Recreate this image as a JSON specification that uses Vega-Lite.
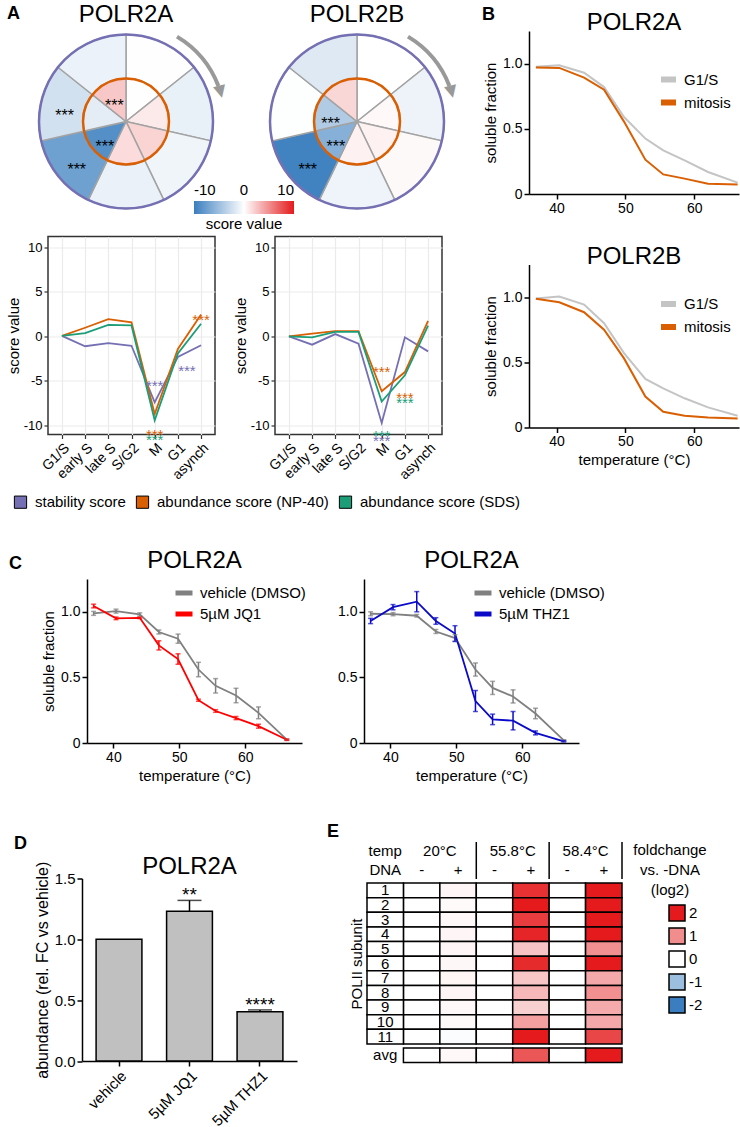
{
"$schema": "https://vega.github.io/schema/vega-lite/v6.json",
"padding": {"left": 5, "top": 2, "right": 0, "bottom": 0},
"background": "white",
"config": {
 "font": "Liberation Sans",
 "view": {"stroke": null},
 "axis": {"labelFontSize": 14, "titleFontSize": 15, "titleFontWeight": "normal", "labelColor": "black", "titleColor": "black", "domainColor": "black", "domainWidth": 1.5, "tickColor": "black", "tickWidth": 1.5, "tickSize": 5, "grid": false, "labelFont": "Liberation Sans", "titleFont": "Liberation Sans"},
 "title": {"fontSize": 24, "fontWeight": "normal", "font": "Liberation Sans", "color": "black"},
 "legend": {"labelFontSize": 15, "labelColor": "black", "titleFontWeight": "normal", "titleColor": "black", "labelFont": "Liberation Sans", "titleFont": "Liberation Sans"},
 "text": {"font": "Liberation Sans", "color": "black"}
},
"datasets": {
 "scores": [
  {"protein":"POLR2A","type":"stability score","phase":"G1/S","idx":1,"value":0.05,"sig":""},
  {"protein":"POLR2A","type":"stability score","phase":"early S","idx":2,"value":-1.1,"sig":""},
  {"protein":"POLR2A","type":"stability score","phase":"late S","idx":3,"value":-0.75,"sig":""},
  {"protein":"POLR2A","type":"stability score","phase":"S/G2","idx":4,"value":-1.05,"sig":""},
  {"protein":"POLR2A","type":"stability score","phase":"M","idx":5,"value":-7.4,"sig":"***"},
  {"protein":"POLR2A","type":"stability score","phase":"G1","idx":6,"value":-2.3,"sig":"***"},
  {"protein":"POLR2A","type":"stability score","phase":"asynch","idx":7,"value":-1.0,"sig":""},
  {"protein":"POLR2A","type":"abundance score (NP-40)","phase":"G1/S","idx":1,"value":0.05,"sig":""},
  {"protein":"POLR2A","type":"abundance score (NP-40)","phase":"early S","idx":2,"value":0.97,"sig":""},
  {"protein":"POLR2A","type":"abundance score (NP-40)","phase":"late S","idx":3,"value":1.94,"sig":""},
  {"protein":"POLR2A","type":"abundance score (NP-40)","phase":"S/G2","idx":4,"value":1.57,"sig":""},
  {"protein":"POLR2A","type":"abundance score (NP-40)","phase":"M","idx":5,"value":-8.7,"sig":"***"},
  {"protein":"POLR2A","type":"abundance score (NP-40)","phase":"G1","idx":6,"value":-1.4,"sig":""},
  {"protein":"POLR2A","type":"abundance score (NP-40)","phase":"asynch","idx":7,"value":2.46,"sig":"***"},
  {"protein":"POLR2A","type":"abundance score (SDS)","phase":"G1/S","idx":1,"value":0.05,"sig":""},
  {"protein":"POLR2A","type":"abundance score (SDS)","phase":"early S","idx":2,"value":0.37,"sig":""},
  {"protein":"POLR2A","type":"abundance score (SDS)","phase":"late S","idx":3,"value":1.3,"sig":""},
  {"protein":"POLR2A","type":"abundance score (SDS)","phase":"S/G2","idx":4,"value":1.23,"sig":""},
  {"protein":"POLR2A","type":"abundance score (SDS)","phase":"M","idx":5,"value":-9.4,"sig":"***"},
  {"protein":"POLR2A","type":"abundance score (SDS)","phase":"G1","idx":6,"value":-1.9,"sig":""},
  {"protein":"POLR2A","type":"abundance score (SDS)","phase":"asynch","idx":7,"value":1.42,"sig":""},
  {"protein":"POLR2B","type":"stability score","phase":"G1/S","idx":1,"value":0.0,"sig":""},
  {"protein":"POLR2B","type":"stability score","phase":"early S","idx":2,"value":-0.93,"sig":""},
  {"protein":"POLR2B","type":"stability score","phase":"late S","idx":3,"value":0.26,"sig":""},
  {"protein":"POLR2B","type":"stability score","phase":"S/G2","idx":4,"value":-0.82,"sig":""},
  {"protein":"POLR2B","type":"stability score","phase":"M","idx":5,"value":-9.7,"sig":"***"},
  {"protein":"POLR2B","type":"stability score","phase":"G1","idx":6,"value":-0.1,"sig":""},
  {"protein":"POLR2B","type":"stability score","phase":"asynch","idx":7,"value":-1.68,"sig":""},
  {"protein":"POLR2B","type":"abundance score (NP-40)","phase":"G1/S","idx":1,"value":0.0,"sig":""},
  {"protein":"POLR2B","type":"abundance score (NP-40)","phase":"early S","idx":2,"value":0.3,"sig":""},
  {"protein":"POLR2B","type":"abundance score (NP-40)","phase":"late S","idx":3,"value":0.6,"sig":""},
  {"protein":"POLR2B","type":"abundance score (NP-40)","phase":"S/G2","idx":4,"value":0.6,"sig":""},
  {"protein":"POLR2B","type":"abundance score (NP-40)","phase":"M","idx":5,"value":-6.15,"sig":"***"},
  {"protein":"POLR2B","type":"abundance score (NP-40)","phase":"G1","idx":6,"value":-4.0,"sig":"***"},
  {"protein":"POLR2B","type":"abundance score (NP-40)","phase":"asynch","idx":7,"value":1.75,"sig":""},
  {"protein":"POLR2B","type":"abundance score (SDS)","phase":"G1/S","idx":1,"value":0.0,"sig":""},
  {"protein":"POLR2B","type":"abundance score (SDS)","phase":"early S","idx":2,"value":-0.1,"sig":""},
  {"protein":"POLR2B","type":"abundance score (SDS)","phase":"late S","idx":3,"value":0.5,"sig":""},
  {"protein":"POLR2B","type":"abundance score (SDS)","phase":"S/G2","idx":4,"value":0.5,"sig":""},
  {"protein":"POLR2B","type":"abundance score (SDS)","phase":"M","idx":5,"value":-7.3,"sig":"***"},
  {"protein":"POLR2B","type":"abundance score (SDS)","phase":"G1","idx":6,"value":-4.37,"sig":"***"},
  {"protein":"POLR2B","type":"abundance score (SDS)","phase":"asynch","idx":7,"value":1.2,"sig":""}
 ],
 "linestars": [
  {"protein":"POLR2A","type":"stability score","phase":"M","y":-4.5},
  {"protein":"POLR2A","type":"stability score","phase":"G1","y":-2.9},
  {"protein":"POLR2A","type":"abundance score (NP-40)","phase":"asynch","y":2.9},
  {"protein":"POLR2A","type":"abundance score (NP-40)","phase":"M","y":-10.1},
  {"protein":"POLR2A","type":"abundance score (SDS)","phase":"M","y":-10.6},
  {"protein":"POLR2B","type":"abundance score (NP-40)","phase":"M","y":-3.0},
  {"protein":"POLR2B","type":"abundance score (NP-40)","phase":"G1","y":-5.85},
  {"protein":"POLR2B","type":"abundance score (SDS)","phase":"G1","y":-6.5},
  {"protein":"POLR2B","type":"abundance score (SDS)","phase":"M","y":-10.2},
  {"protein":"POLR2B","type":"stability score","phase":"M","y":-10.75}
 ],
 "melt": [
  {"protein":"POLR2A","cond":"G1/S","temp":37,"frac":0.975},{"protein":"POLR2A","cond":"G1/S","temp":40.4,"frac":0.987},{"protein":"POLR2A","cond":"G1/S","temp":44,"frac":0.93},{"protein":"POLR2A","cond":"G1/S","temp":46.9,"frac":0.82},{"protein":"POLR2A","cond":"G1/S","temp":49.8,"frac":0.59},{"protein":"POLR2A","cond":"G1/S","temp":52.9,"frac":0.425},{"protein":"POLR2A","cond":"G1/S","temp":55.5,"frac":0.335},{"protein":"POLR2A","cond":"G1/S","temp":58.6,"frac":0.258},{"protein":"POLR2A","cond":"G1/S","temp":62,"frac":0.169},{"protein":"POLR2A","cond":"G1/S","temp":66.3,"frac":0.087},
  {"protein":"POLR2A","cond":"mitosis","temp":37,"frac":0.97},{"protein":"POLR2A","cond":"mitosis","temp":40.4,"frac":0.967},{"protein":"POLR2A","cond":"mitosis","temp":44,"frac":0.893},{"protein":"POLR2A","cond":"mitosis","temp":46.9,"frac":0.8},{"protein":"POLR2A","cond":"mitosis","temp":49.8,"frac":0.555},{"protein":"POLR2A","cond":"mitosis","temp":52.9,"frac":0.263},{"protein":"POLR2A","cond":"mitosis","temp":55.5,"frac":0.15},{"protein":"POLR2A","cond":"mitosis","temp":58.6,"frac":0.118},{"protein":"POLR2A","cond":"mitosis","temp":62,"frac":0.079},{"protein":"POLR2A","cond":"mitosis","temp":66.3,"frac":0.072},
  {"protein":"POLR2B","cond":"G1/S","temp":37,"frac":0.99},{"protein":"POLR2B","cond":"G1/S","temp":40.4,"frac":1.005},{"protein":"POLR2B","cond":"G1/S","temp":44,"frac":0.943},{"protein":"POLR2B","cond":"G1/S","temp":46.9,"frac":0.8},{"protein":"POLR2B","cond":"G1/S","temp":49.8,"frac":0.57},{"protein":"POLR2B","cond":"G1/S","temp":52.9,"frac":0.373},{"protein":"POLR2B","cond":"G1/S","temp":55.5,"frac":0.3},{"protein":"POLR2B","cond":"G1/S","temp":58.6,"frac":0.224},{"protein":"POLR2B","cond":"G1/S","temp":62,"frac":0.154},{"protein":"POLR2B","cond":"G1/S","temp":66.3,"frac":0.09},
  {"protein":"POLR2B","cond":"mitosis","temp":37,"frac":0.987},{"protein":"POLR2B","cond":"mitosis","temp":40.4,"frac":0.96},{"protein":"POLR2B","cond":"mitosis","temp":44,"frac":0.884},{"protein":"POLR2B","cond":"mitosis","temp":46.9,"frac":0.75},{"protein":"POLR2B","cond":"mitosis","temp":49.8,"frac":0.53},{"protein":"POLR2B","cond":"mitosis","temp":52.9,"frac":0.237},{"protein":"POLR2B","cond":"mitosis","temp":55.5,"frac":0.12},{"protein":"POLR2B","cond":"mitosis","temp":58.6,"frac":0.09},{"protein":"POLR2B","cond":"mitosis","temp":62,"frac":0.077},{"protein":"POLR2B","cond":"mitosis","temp":66.3,"frac":0.069}
 ],
 "tx": [
  {"panel":"JQ1","cond":"vehicle (DMSO)","temp":37,"frac":0.988,"lo":0.973,"hi":1.003},{"panel":"JQ1","cond":"vehicle (DMSO)","temp":40.4,"frac":1.005,"lo":0.99,"hi":1.02},{"panel":"JQ1","cond":"vehicle (DMSO)","temp":44,"frac":0.98,"lo":0.968,"hi":0.992},{"panel":"JQ1","cond":"vehicle (DMSO)","temp":46.9,"frac":0.846,"lo":0.831,"hi":0.861},{"panel":"JQ1","cond":"vehicle (DMSO)","temp":49.8,"frac":0.795,"lo":0.76,"hi":0.83},{"panel":"JQ1","cond":"vehicle (DMSO)","temp":52.9,"frac":0.56,"lo":0.505,"hi":0.615},{"panel":"JQ1","cond":"vehicle (DMSO)","temp":55.5,"frac":0.436,"lo":0.381,"hi":0.491},{"panel":"JQ1","cond":"vehicle (DMSO)","temp":58.6,"frac":0.362,"lo":0.307,"hi":0.417},{"panel":"JQ1","cond":"vehicle (DMSO)","temp":62,"frac":0.23,"lo":0.185,"hi":0.275},{"panel":"JQ1","cond":"vehicle (DMSO)","temp":66.3,"frac":0.025,"lo":0.02,"hi":0.03},
  {"panel":"JQ1","cond":"5µM JQ1","temp":37,"frac":1.044,"lo":1.03,"hi":1.058},{"panel":"JQ1","cond":"5µM JQ1","temp":40.4,"frac":0.95,"lo":0.94,"hi":0.96},{"panel":"JQ1","cond":"5µM JQ1","temp":44,"frac":0.954,"lo":0.948,"hi":0.96},{"panel":"JQ1","cond":"5µM JQ1","temp":46.9,"frac":0.744,"lo":0.709,"hi":0.779},{"panel":"JQ1","cond":"5µM JQ1","temp":49.8,"frac":0.64,"lo":0.6,"hi":0.68},{"panel":"JQ1","cond":"5µM JQ1","temp":52.9,"frac":0.326,"lo":0.318,"hi":0.334},{"panel":"JQ1","cond":"5µM JQ1","temp":55.5,"frac":0.244,"lo":0.234,"hi":0.254},{"panel":"JQ1","cond":"5µM JQ1","temp":58.6,"frac":0.19,"lo":0.178,"hi":0.202},{"panel":"JQ1","cond":"5µM JQ1","temp":62,"frac":0.128,"lo":0.113,"hi":0.143},{"panel":"JQ1","cond":"5µM JQ1","temp":66.3,"frac":0.025,"lo":0.02,"hi":0.03},
  {"panel":"THZ1","cond":"vehicle (DMSO)","temp":37,"frac":0.985,"lo":0.97,"hi":1.0},{"panel":"THZ1","cond":"vehicle (DMSO)","temp":40.4,"frac":0.982,"lo":0.97,"hi":0.994},{"panel":"THZ1","cond":"vehicle (DMSO)","temp":44,"frac":0.97,"lo":0.96,"hi":0.98},{"panel":"THZ1","cond":"vehicle (DMSO)","temp":46.9,"frac":0.85,"lo":0.835,"hi":0.865},{"panel":"THZ1","cond":"vehicle (DMSO)","temp":49.8,"frac":0.8,"lo":0.775,"hi":0.825},{"panel":"THZ1","cond":"vehicle (DMSO)","temp":52.9,"frac":0.56,"lo":0.51,"hi":0.61},{"panel":"THZ1","cond":"vehicle (DMSO)","temp":55.5,"frac":0.42,"lo":0.37,"hi":0.47},{"panel":"THZ1","cond":"vehicle (DMSO)","temp":58.6,"frac":0.355,"lo":0.305,"hi":0.405},{"panel":"THZ1","cond":"vehicle (DMSO)","temp":62,"frac":0.225,"lo":0.185,"hi":0.265},{"panel":"THZ1","cond":"vehicle (DMSO)","temp":66.3,"frac":0.02,"lo":0.015,"hi":0.025},
  {"panel":"THZ1","cond":"5µM THZ1","temp":37,"frac":0.93,"lo":0.91,"hi":0.95},{"panel":"THZ1","cond":"5µM THZ1","temp":40.4,"frac":1.035,"lo":1.015,"hi":1.055},{"panel":"THZ1","cond":"5µM THZ1","temp":44,"frac":1.077,"lo":1.0,"hi":1.154},{"panel":"THZ1","cond":"5µM THZ1","temp":46.9,"frac":0.93,"lo":0.905,"hi":0.955},{"panel":"THZ1","cond":"5µM THZ1","temp":49.8,"frac":0.834,"lo":0.774,"hi":0.894},{"panel":"THZ1","cond":"5µM THZ1","temp":52.9,"frac":0.32,"lo":0.24,"hi":0.4},{"panel":"THZ1","cond":"5µM THZ1","temp":55.5,"frac":0.18,"lo":0.14,"hi":0.22},{"panel":"THZ1","cond":"5µM THZ1","temp":58.6,"frac":0.17,"lo":0.1,"hi":0.24},{"panel":"THZ1","cond":"5µM THZ1","temp":62,"frac":0.077,"lo":0.062,"hi":0.092},{"panel":"THZ1","cond":"5µM THZ1","temp":66.3,"frac":0.013,"lo":0.008,"hi":0.018}
 ],
 "bars": [
  {"treatment":"vehicle","abundance":1.0,"upper":null,"stars":""},
  {"treatment":"5µM JQ1","abundance":1.23,"upper":1.32,"stars":"**"},
  {"treatment":"5µM THZ1","abundance":0.404,"upper":0.42,"stars":"****"}
 ],
 "heat": [
  {"sub":"1","col":"20-","value":0},{"sub":"1","col":"20+","value":0.08},{"sub":"1","col":"55-","value":0},{"sub":"1","col":"55+","value":1.8},{"sub":"1","col":"58-","value":0},{"sub":"1","col":"58+","value":2.0},
  {"sub":"2","col":"20-","value":0},{"sub":"2","col":"20+","value":0.04},{"sub":"2","col":"55-","value":0},{"sub":"2","col":"55+","value":2.0},{"sub":"2","col":"58-","value":0},{"sub":"2","col":"58+","value":2.0},
  {"sub":"3","col":"20-","value":0},{"sub":"3","col":"20+","value":0.06},{"sub":"3","col":"55-","value":0},{"sub":"3","col":"55+","value":1.7},{"sub":"3","col":"58-","value":0},{"sub":"3","col":"58+","value":2.0},
  {"sub":"4","col":"20-","value":0},{"sub":"4","col":"20+","value":0.08},{"sub":"4","col":"55-","value":0},{"sub":"4","col":"55+","value":1.9},{"sub":"4","col":"58-","value":0},{"sub":"4","col":"58+","value":2.0},
  {"sub":"5","col":"20-","value":0},{"sub":"5","col":"20+","value":0.08},{"sub":"5","col":"55-","value":0},{"sub":"5","col":"55+","value":0.52},{"sub":"5","col":"58-","value":0},{"sub":"5","col":"58+","value":0.98},
  {"sub":"6","col":"20-","value":0},{"sub":"6","col":"20+","value":0.07},{"sub":"6","col":"55-","value":0},{"sub":"6","col":"55+","value":1.85},{"sub":"6","col":"58-","value":0},{"sub":"6","col":"58+","value":2.0},
  {"sub":"7","col":"20-","value":0},{"sub":"7","col":"20+","value":0.09},{"sub":"7","col":"55-","value":0},{"sub":"7","col":"55+","value":0.5},{"sub":"7","col":"58-","value":0},{"sub":"7","col":"58+","value":0.76},
  {"sub":"8","col":"20-","value":0},{"sub":"8","col":"20+","value":0.08},{"sub":"8","col":"55-","value":0},{"sub":"8","col":"55+","value":0.62},{"sub":"8","col":"58-","value":0},{"sub":"8","col":"58+","value":0.98},
  {"sub":"9","col":"20-","value":0},{"sub":"9","col":"20+","value":0.06},{"sub":"9","col":"55-","value":0},{"sub":"9","col":"55+","value":0.41},{"sub":"9","col":"58-","value":0},{"sub":"9","col":"58+","value":0.74},
  {"sub":"10","col":"20-","value":0},{"sub":"10","col":"20+","value":0.04},{"sub":"10","col":"55-","value":0},{"sub":"10","col":"55+","value":0.83},{"sub":"10","col":"58-","value":0},{"sub":"10","col":"58+","value":0.76},
  {"sub":"11","col":"20-","value":0},{"sub":"11","col":"20+","value":-0.05},{"sub":"11","col":"55-","value":0},{"sub":"11","col":"55+","value":2.0},{"sub":"11","col":"58-","value":0},{"sub":"11","col":"58+","value":1.62}
 ],
 "heatavg": [
  {"sub":"avg","col":"20-","value":0},{"sub":"avg","col":"20+","value":0.06},{"sub":"avg","col":"55-","value":0},{"sub":"avg","col":"55+","value":1.48},{"sub":"avg","col":"58-","value":0},{"sub":"avg","col":"58+","value":2.0}
 ],
 "header": [
  {"row":"temp","col":"label","txt":"temp"},{"row":"DNA","col":"label","txt":"DNA"},
  {"row":"DNA","col":"20-","txt":"-"},{"row":"DNA","col":"20+","txt":"+"},
  {"row":"DNA","col":"55-","txt":"-"},{"row":"DNA","col":"55+","txt":"+"},
  {"row":"DNA","col":"58-","txt":"-"},{"row":"DNA","col":"58+","txt":"+"}
 ],
 "temps": [
  {"row":"temp","col":"20+","txt":"20°C"},{"row":"temp","col":"55+","txt":"55.8°C"},{"row":"temp","col":"58+","txt":"58.4°C"}
 ]
},
"spacing": 37,
"resolve": {"scale": {"color": "independent", "fill": "independent", "stroke": "independent"}},
"vconcat": [
 {
  "hconcat": [
   {
    "title": {"text": "A", "anchor": "start", "frame": "group", "fontWeight": "bold", "fontSize": 18, "dx": -41, "dy": 20, "offset": 0},
    "spacing": 3.5,
    "resolve": {"scale": {"color": "independent", "fill": "independent", "stroke": "independent"}},
    "vconcat": [
     {
      "hconcat": [
       {
        "width": 156, "height": 181,
        "title": {"text": "POLR2A", "offset": 3},
        "resolve": {"scale": {"theta": "independent"}},
        "layer": [
         {"data": {"name": "scores"}, "transform": [{"filter": "datum.protein === 'POLR2A' && datum.type === 'stability score'"}],
          "mark": {"type": "arc", "radius": 87, "stroke": "#a3a3a3", "strokeWidth": 1.5},
          "encoding": {"theta": {"aggregate": "count", "type": "quantitative", "stack": true}, "order": {"field": "idx", "type": "quantitative"},
           "color": {"field": "value", "type": "quantitative", "scale": {"domain": [-10, 0, 10], "range": ["#3b7ebf", "#ffffff", "#e41a1c"], "interpolate": "rgb"},
            "legend": {"orient": "none", "legendX": 146, "legendY": 170, "direction": "horizontal", "gradientLength": 100, "gradientThickness": 13, "gradientStrokeWidth": 0, "title": "score value", "titleOrient": "bottom", "titleAnchor": "middle", "titleFontSize": 15, "titlePadding": 3, "values": [-10, 0, 10], "labelExpr": "datum.value < 0 ? '-' + abs(datum.value) : '' + datum.value", "labelOffset": -31, "labelFontSize": 15}}}},
         {"data": {"name": "scores"}, "transform": [{"filter": "datum.protein === 'POLR2A' && datum.type === 'abundance score (NP-40)'"}],
          "mark": {"type": "arc", "radius": 43, "stroke": "#a3a3a3", "strokeWidth": 1.5},
          "encoding": {"theta": {"aggregate": "count", "type": "quantitative", "stack": true}, "order": {"field": "idx", "type": "quantitative"},
           "color": {"field": "value", "type": "quantitative"}}},
         {"data": {"name": "scores"}, "transform": [{"filter": "datum.protein === 'POLR2A' && datum.type === 'stability score'"}],
          "mark": {"type": "arc", "radius": 87, "fill": "white", "fillOpacity": 0, "stroke": "#7570b3", "strokeWidth": 2.5},
          "encoding": {"theta": {"aggregate": "count", "type": "quantitative", "stack": true}}},
         {"data": {"name": "scores"}, "transform": [{"filter": "datum.protein === 'POLR2A' && datum.type === 'stability score'"}],
          "mark": {"type": "arc", "radius": 43, "fill": "white", "fillOpacity": 0, "stroke": "#d95f02", "strokeWidth": 2.5},
          "encoding": {"theta": {"aggregate": "count", "type": "quantitative", "stack": true}}},
         {"data": {"name": "scores"}, "transform": [{"filter": "datum.protein === 'POLR2A' && datum.type === 'stability score'"}],
          "mark": {"type": "text", "radius": 63, "fontSize": 16, "dy": 9},
          "encoding": {"theta": {"aggregate": "count", "type": "quantitative", "stack": true}, "order": {"field": "idx", "type": "quantitative"}, "text": {"field": "sig"}}},
         {"data": {"name": "scores"}, "transform": [{"filter": "datum.protein === 'POLR2A' && datum.type === 'abundance score (NP-40)'"}],
          "mark": {"type": "text", "radius": 27, "fontSize": 16, "dy": 9},
          "encoding": {"theta": {"aggregate": "count", "type": "quantitative", "stack": true}, "order": {"field": "idx", "type": "quantitative"}, "text": {"field": "sig"}}},
         {"data": {"values": [{"from": 31, "to": 69}]},
          "mark": {"type": "arc", "radius": 101, "radius2": 97, "color": "#999999"},
          "encoding": {"theta": {"field": "from", "type": "quantitative", "scale": {"domain": [0, 360], "range": [0, 6.2832]}}, "theta2": {"field": "to"}}},
         {"data": {"values": [{"at": 72}]},
          "mark": {"type": "text", "radius": 99, "text": "▼", "font": "DejaVu Sans", "fontSize": 16, "angle": -14, "color": "#999999", "baseline": "middle"},
          "encoding": {"theta": {"field": "at", "type": "quantitative", "scale": {"domain": [0, 360], "range": [0, 6.2832]}}}}
        ]
       },
       {
        "width": 174, "height": 181,
        "title": {"text": "POLR2B", "offset": 3},
        "resolve": {"scale": {"theta": "independent"}},
        "layer": [
         {"data": {"name": "scores"}, "transform": [{"filter": "datum.protein === 'POLR2B' && datum.type === 'stability score'"}],
          "mark": {"type": "arc", "radius": 87, "stroke": "#a3a3a3", "strokeWidth": 1.5},
          "encoding": {"theta": {"aggregate": "count", "type": "quantitative", "stack": true}, "order": {"field": "idx", "type": "quantitative"},
           "color": {"field": "value", "type": "quantitative", "scale": {"domain": [-10, 0, 10], "range": ["#3b7ebf", "#ffffff", "#e41a1c"], "interpolate": "rgb"}, "legend": null}}},
         {"data": {"name": "scores"}, "transform": [{"filter": "datum.protein === 'POLR2B' && datum.type === 'abundance score (NP-40)'"}],
          "mark": {"type": "arc", "radius": 43, "stroke": "#a3a3a3", "strokeWidth": 1.5},
          "encoding": {"theta": {"aggregate": "count", "type": "quantitative", "stack": true}, "order": {"field": "idx", "type": "quantitative"},
           "color": {"field": "value", "type": "quantitative", "legend": null}}},
         {"data": {"name": "scores"}, "transform": [{"filter": "datum.protein === 'POLR2B' && datum.type === 'stability score'"}],
          "mark": {"type": "arc", "radius": 87, "fill": "white", "fillOpacity": 0, "stroke": "#7570b3", "strokeWidth": 2.5},
          "encoding": {"theta": {"aggregate": "count", "type": "quantitative", "stack": true}}},
         {"data": {"name": "scores"}, "transform": [{"filter": "datum.protein === 'POLR2B' && datum.type === 'stability score'"}],
          "mark": {"type": "arc", "radius": 43, "fill": "white", "fillOpacity": 0, "stroke": "#d95f02", "strokeWidth": 2.5},
          "encoding": {"theta": {"aggregate": "count", "type": "quantitative", "stack": true}}},
         {"data": {"name": "scores"}, "transform": [{"filter": "datum.protein === 'POLR2B' && datum.type === 'stability score'"}],
          "mark": {"type": "text", "radius": 63, "fontSize": 16, "dy": 9},
          "encoding": {"theta": {"aggregate": "count", "type": "quantitative", "stack": true}, "order": {"field": "idx", "type": "quantitative"}, "text": {"field": "sig"}}},
         {"data": {"name": "scores"}, "transform": [{"filter": "datum.protein === 'POLR2B' && datum.type === 'abundance score (NP-40)'"}],
          "mark": {"type": "text", "radius": 27, "fontSize": 16, "dy": 9},
          "encoding": {"theta": {"aggregate": "count", "type": "quantitative", "stack": true}, "order": {"field": "idx", "type": "quantitative"}, "text": {"field": "sig"}}},
         {"data": {"values": [{"from": 31, "to": 69}]},
          "mark": {"type": "arc", "radius": 101, "radius2": 97, "color": "#999999"},
          "encoding": {"theta": {"field": "from", "type": "quantitative", "scale": {"domain": [0, 360], "range": [0, 6.2832]}}, "theta2": {"field": "to"}}},
         {"data": {"values": [{"at": 72}]},
          "mark": {"type": "text", "radius": 99, "text": "▼", "font": "DejaVu Sans", "fontSize": 16, "angle": -14, "color": "#999999", "baseline": "middle"},
          "encoding": {"theta": {"field": "at", "type": "quantitative", "scale": {"domain": [0, 360], "range": [0, 6.2832]}}}}
        ]
       }
      ],
      "spacing": 66,
      "bounds": "flush",
      "resolve": {"scale": {"color": "independent", "theta": "independent"}}
     },
     {
      "hconcat": [
       {
        "width": 167, "height": 198,
        "view": {"stroke": "#333333", "strokeWidth": 1.5},
        "layer": [
         {"data": {"name": "scores"}, "transform": [{"filter": "datum.protein === 'POLR2A' && datum.type === 'stability score'"}],
          "mark": {"type": "line", "strokeWidth": 1.8, "color": "#7570b3"},
          "encoding": {
           "x": {"field": "phase", "type": "ordinal", "sort": ["G1/S","early S","late S","S/G2","M","G1","asynch"], "scale": {"type": "point", "padding": 0.6},
            "axis": {"title": null, "labelAngle": -45, "domain": false, "grid": true, "gridColor": "#ebebeb", "gridWidth": 1.2, "tickColor": "#333333", "tickSize": 4, "tickWidth": 1.2, "labelPadding": 2}},
           "y": {"field": "value", "type": "quantitative", "scale": {"domain": [-11, 11.2], "nice": false},
            "axis": {"title": "score value", "titleFontSize": 15, "labelFontSize": 13, "values": [-10, -5, 0, 5, 10], "labelExpr": "datum.value < 0 ? '-' + abs(datum.value) : '' + datum.value", "domain": false, "grid": true, "gridColor": "#ebebeb", "gridWidth": 1.2, "tickColor": "#333333", "tickSize": 4, "tickWidth": 1.2, "titlePadding": 2}}
          }},
         {"data": {"name": "scores"}, "transform": [{"filter": "datum.protein === 'POLR2A' && datum.type === 'abundance score (NP-40)'"}],
          "mark": {"type": "line", "strokeWidth": 1.8, "color": "#d95f02"},
          "encoding": {"x": {"field": "phase", "type": "ordinal", "sort": ["G1/S","early S","late S","S/G2","M","G1","asynch"]}, "y": {"field": "value", "type": "quantitative"}}},
         {"data": {"name": "scores"}, "transform": [{"filter": "datum.protein === 'POLR2A' && datum.type === 'abundance score (SDS)'"}],
          "mark": {"type": "line", "strokeWidth": 1.8, "color": "#1b9e77"},
          "encoding": {"x": {"field": "phase", "type": "ordinal", "sort": ["G1/S","early S","late S","S/G2","M","G1","asynch"]}, "y": {"field": "value", "type": "quantitative"}}},
         {"data": {"name": "scores"}, "transform": [{"filter": "datum.protein === 'POLR2A'"}],
          "mark": {"type": "square", "size": 0},
          "encoding": {
           "x": {"field": "phase", "type": "ordinal", "sort": ["G1/S","early S","late S","S/G2","M","G1","asynch"]},
           "y": {"field": "value", "type": "quantitative"},
           "color": {"field": "type", "type": "nominal", "scale": {"domain": ["stability score","abundance score (NP-40)","abundance score (SDS)"], "range": ["#7570b3","#d95f02","#1b9e77"]},
            "legend": {"orient": "none", "legendX": -35, "legendY": 258, "direction": "horizontal", "title": null, "symbolType": "square", "symbolSize": 150, "symbolStrokeColor": "black", "symbolStrokeWidth": 1, "symbolOpacity": 1, "labelFontSize": 15, "labelLimit": 0, "columnPadding": 8, "labelOffset": 7}}
          }},
         {"data": {"name": "linestars"}, "transform": [{"filter": "datum.protein === 'POLR2A' && datum.type === 'stability score' && datum.phase !== 'G1'"}],
          "mark": {"type": "text", "fontSize": 15, "dy": 9, "text": "***", "color": "#7570b3"},
          "encoding": {"x": {"field": "phase", "type": "ordinal", "sort": ["G1/S","early S","late S","S/G2","M","G1","asynch"]}, "y": {"field": "y", "type": "quantitative"}}},
         {"data": {"name": "linestars"}, "transform": [{"filter": "datum.protein === 'POLR2A' && datum.type === 'stability score' && datum.phase === 'G1'"}],
          "mark": {"type": "text", "fontSize": 15, "dy": 9, "dx": 9, "text": "***", "color": "#7570b3"},
          "encoding": {"x": {"field": "phase", "type": "ordinal", "sort": ["G1/S","early S","late S","S/G2","M","G1","asynch"]}, "y": {"field": "y", "type": "quantitative"}}},
         {"data": {"name": "linestars"}, "transform": [{"filter": "datum.protein === 'POLR2A' && datum.type === 'abundance score (NP-40)'"}],
          "mark": {"type": "text", "fontSize": 15, "dy": 9, "text": "***", "color": "#d95f02"},
          "encoding": {"x": {"field": "phase", "type": "ordinal", "sort": ["G1/S","early S","late S","S/G2","M","G1","asynch"]}, "y": {"field": "y", "type": "quantitative"}}},
         {"data": {"name": "linestars"}, "transform": [{"filter": "datum.protein === 'POLR2A' && datum.type === 'abundance score (SDS)'"}],
          "mark": {"type": "text", "fontSize": 15, "dy": 9, "text": "***", "color": "#1b9e77"},
          "encoding": {"x": {"field": "phase", "type": "ordinal", "sort": ["G1/S","early S","late S","S/G2","M","G1","asynch"]}, "y": {"field": "y", "type": "quantitative"}}}
        ]
       },
       {
        "width": 167, "height": 198,
        "view": {"stroke": "#333333", "strokeWidth": 1.5},
        "layer": [
         {"data": {"name": "scores"}, "transform": [{"filter": "datum.protein === 'POLR2B'"}],
          "mark": {"type": "line", "strokeWidth": 1.8},
          "encoding": {
           "x": {"field": "phase", "type": "ordinal", "sort": ["G1/S","early S","late S","S/G2","M","G1","asynch"], "scale": {"type": "point", "padding": 0.6},
            "axis": {"title": null, "labelAngle": -45, "domain": false, "grid": true, "gridColor": "#ebebeb", "gridWidth": 1.2, "tickColor": "#333333", "tickSize": 4, "tickWidth": 1.2, "labelPadding": 2}},
           "y": {"field": "value", "type": "quantitative", "scale": {"domain": [-11, 11.2], "nice": false},
            "axis": {"title": "score value", "titleFontSize": 15, "labelFontSize": 13, "values": [-10, -5, 0, 5, 10], "labelExpr": "datum.value < 0 ? '-' + abs(datum.value) : '' + datum.value", "domain": false, "grid": true, "gridColor": "#ebebeb", "gridWidth": 1.2, "tickColor": "#333333", "tickSize": 4, "tickWidth": 1.2, "titlePadding": 2}},
           "stroke": {"field": "type", "type": "nominal", "scale": {"domain": ["stability score","abundance score (NP-40)","abundance score (SDS)"], "range": ["#7570b3","#d95f02","#1b9e77"]}, "legend": null}
          }},
         {"data": {"name": "linestars"}, "transform": [{"filter": "datum.protein === 'POLR2B'"}],
          "mark": {"type": "text", "fontSize": 15, "dy": 9, "text": "***"},
          "encoding": {"x": {"field": "phase", "type": "ordinal", "sort": ["G1/S","early S","late S","S/G2","M","G1","asynch"]}, "y": {"field": "y", "type": "quantitative"},
           "fill": {"field": "type", "type": "nominal", "scale": {"domain": ["stability score","abundance score (NP-40)","abundance score (SDS)"], "range": ["#7570b3","#d95f02","#1b9e77"]}, "legend": null}}}
        ]
       }
      ],
      "spacing": 60,
      "bounds": "flush",
      "resolve": {"scale": {"color": "independent", "fill": "independent", "stroke": "independent"}}
     }
    ]
   },
   {
    "title": {"text": "B", "anchor": "start", "frame": "group", "fontWeight": "bold", "fontSize": 18, "dx": -47, "dy": 13, "offset": 0},
    "bounds": "flush",
    "spacing": 70.5,
    "resolve": {"scale": {"color": "independent"}},
    "vconcat": [
     {
      "width": 210, "height": 163,
      "title": {"text": "POLR2A", "offset": -4},
      "data": {"name": "melt"},
      "transform": [{"filter": "datum.protein === 'POLR2A'"}],
      "mark": {"type": "line", "strokeWidth": 2},
      "encoding": {
       "x": {"field": "temp", "type": "quantitative", "scale": {"domain": [36, 66.5], "nice": false, "zero": false}, "axis": {"values": [40, 50, 60], "title": null}},
       "y": {"field": "frac", "type": "quantitative", "scale": {"domain": [0, 1.25], "nice": false}, "axis": {"values": [0, 0.5, 1], "labelExpr": "datum.value === 0 ? '0' : format(datum.value, '.1f')", "title": "soluble fraction"}},
       "color": {"field": "cond", "type": "nominal", "scale": {"domain": ["G1/S", "mitosis"], "range": ["#c4c4c4", "#d95f02"]},
        "legend": {"orient": "none", "legendX": 129, "legendY": 38, "title": null, "symbolType": "M-1,0H1", "symbolSize": 225, "labelFontSize": 15, "rowPadding": -5, "labelOffset": 5, "encode": {"symbols": {"update": {"strokeWidth": {"value": 6}}}}}}
      }
     },
     {
      "width": 210, "height": 163,
      "title": {"text": "POLR2B", "offset": -4},
      "data": {"name": "melt"},
      "transform": [{"filter": "datum.protein === 'POLR2B'"}],
      "mark": {"type": "line", "strokeWidth": 2},
      "encoding": {
       "x": {"field": "temp", "type": "quantitative", "scale": {"domain": [36, 66.5], "nice": false, "zero": false}, "axis": {"values": [40, 50, 60], "title": "temperature (°C)"}},
       "y": {"field": "frac", "type": "quantitative", "scale": {"domain": [0, 1.25], "nice": false}, "axis": {"values": [0, 0.5, 1], "labelExpr": "datum.value === 0 ? '0' : format(datum.value, '.1f')", "title": "soluble fraction"}},
       "color": {"field": "cond", "type": "nominal", "scale": {"domain": ["G1/S", "mitosis"], "range": ["#c4c4c4", "#d95f02"]},
        "legend": {"orient": "none", "legendX": 129, "legendY": 29, "title": null, "symbolType": "M-1,0H1", "symbolSize": 225, "labelFontSize": 15, "rowPadding": -5, "labelOffset": 5, "encode": {"symbols": {"update": {"strokeWidth": {"value": 6}}}}}}
      }
     }
    ]
   }
  ],
  "spacing": -40,
  "resolve": {"scale": {"color": "independent", "fill": "independent", "stroke": "independent"}}
 },
 {
  "vconcat": [
   {
    "hconcat": [
     {"width": 1, "height": 1, "data": {"values": []}, "mark": "point"},
     {
      "title": {"text": "C", "anchor": "start", "frame": "group", "fontWeight": "bold", "fontSize": 18, "dx": -78, "dy": 24, "offset": 0},
      "hconcat": [
       {
        "width": 215, "height": 164,
        "title": {"text": "POLR2A", "offset": 6},
        "data": {"name": "tx"},
        "transform": [{"filter": "datum.panel === 'JQ1'"}],
        "layer": [
         {"mark": {"type": "line", "strokeWidth": 1.8},
          "encoding": {
           "x": {"field": "temp", "type": "quantitative", "scale": {"domain": [36, 68.6], "nice": false, "zero": false}, "axis": {"values": [40, 50, 60], "title": "temperature (°C)"}},
           "y": {"field": "frac", "type": "quantitative", "scale": {"domain": [0, 1.25], "nice": false}, "axis": {"values": [0, 0.5, 1], "labelExpr": "datum.value === 0 ? '0' : format(datum.value, '.1f')", "title": "soluble fraction"}},
           "stroke": {"field": "cond", "type": "nominal", "scale": {"domain": ["vehicle (DMSO)", "5µM JQ1"], "range": ["#808080", "#ff0000"]},
            "legend": {"orient": "none", "legendX": 86, "legendY": 3, "title": null, "symbolType": "M-1,0H1", "symbolSize": 289, "labelFontSize": 15, "rowPadding": -3, "labelOffset": 5, "encode": {"symbols": {"update": {"strokeWidth": {"value": 5}}}}}}}},
         {"mark": {"type": "rule", "strokeWidth": 1.5},
          "encoding": {"x": {"field": "temp", "type": "quantitative"}, "y": {"field": "lo", "type": "quantitative"}, "y2": {"field": "hi"},
           "color": {"field": "cond", "type": "nominal", "scale": {"domain": ["vehicle (DMSO)", "5µM JQ1"], "range": ["#808080", "#ff0000"]}, "legend": null}}},
         {"mark": {"type": "tick", "orient": "horizontal", "size": 5, "thickness": 1.5},
          "encoding": {"x": {"field": "temp", "type": "quantitative"}, "y": {"field": "lo", "type": "quantitative"}, "color": {"field": "cond", "type": "nominal", "legend": null}}},
         {"mark": {"type": "tick", "orient": "horizontal", "size": 5, "thickness": 1.5},
          "encoding": {"x": {"field": "temp", "type": "quantitative"}, "y": {"field": "hi", "type": "quantitative"}, "color": {"field": "cond", "type": "nominal", "legend": null}}}
        ]
       },
       {
        "width": 215, "height": 164,
        "title": {"text": "POLR2A", "offset": 6},
        "data": {"name": "tx"},
        "transform": [{"filter": "datum.panel === 'THZ1'"}],
        "layer": [
         {"mark": {"type": "line", "strokeWidth": 1.8},
          "encoding": {
           "x": {"field": "temp", "type": "quantitative", "scale": {"domain": [36, 68.6], "nice": false, "zero": false}, "axis": {"values": [40, 50, 60], "title": "temperature (°C)"}},
           "y": {"field": "frac", "type": "quantitative", "scale": {"domain": [0, 1.25], "nice": false}, "axis": {"values": [0, 0.5, 1], "labelExpr": "datum.value === 0 ? '0' : format(datum.value, '.1f')", "title": null}},
           "stroke": {"field": "cond", "type": "nominal", "scale": {"domain": ["vehicle (DMSO)", "5µM THZ1"], "range": ["#808080", "#0a0ac8"]},
            "legend": {"orient": "none", "legendX": 108, "legendY": 3, "title": null, "symbolType": "M-1,0H1", "symbolSize": 289, "labelFontSize": 15, "rowPadding": -3, "labelOffset": 5, "encode": {"symbols": {"update": {"strokeWidth": {"value": 5}}}}}}}},
         {"mark": {"type": "rule", "strokeWidth": 1.5},
          "encoding": {"x": {"field": "temp", "type": "quantitative"}, "y": {"field": "lo", "type": "quantitative"}, "y2": {"field": "hi"},
           "color": {"field": "cond", "type": "nominal", "scale": {"domain": ["vehicle (DMSO)", "5µM THZ1"], "range": ["#808080", "#0a0ac8"]}, "legend": null}}},
         {"mark": {"type": "tick", "orient": "horizontal", "size": 5, "thickness": 1.5},
          "encoding": {"x": {"field": "temp", "type": "quantitative"}, "y": {"field": "lo", "type": "quantitative"}, "color": {"field": "cond", "type": "nominal", "legend": null}}},
         {"mark": {"type": "tick", "orient": "horizontal", "size": 5, "thickness": 1.5},
          "encoding": {"x": {"field": "temp", "type": "quantitative"}, "y": {"field": "hi", "type": "quantitative"}, "color": {"field": "cond", "type": "nominal", "legend": null}}}
        ]
       }
      ],
      "spacing": 62,
      "bounds": "flush",
      "resolve": {"scale": {"color": "independent", "stroke": "independent"}}
     }
    ],
    "spacing": -40
   },
   {
    "hconcat": [
     {"width": 1, "height": 1, "data": {"values": []}, "mark": "point"},
     {
      "hconcat": [
       {
        "title": {"text": "D", "anchor": "start", "frame": "group", "fontWeight": "bold", "fontSize": 18, "dx": -68, "dy": 11, "offset": 0},
        "vconcat": [
         {"width": 1, "height": 1, "data": {"values": []}, "mark": "point"},
         {
          "width": 215, "height": 182.5,
          "title": {"text": "POLR2A", "offset": -18},
          "data": {"name": "bars"},
          "layer": [
           {"mark": {"type": "bar", "fill": "#c0c0c0", "stroke": "black", "strokeWidth": 1.5},
            "encoding": {
             "x": {"field": "treatment", "type": "nominal", "sort": null, "scale": {"paddingInner": 0.35, "paddingOuter": 0.2}, "axis": {"labelAngle": -45, "title": null, "labelFontSize": 15}},
             "y": {"field": "abundance", "type": "quantitative", "scale": {"domain": [0, 1.5], "nice": false}, "axis": {"values": [0, 0.5, 1, 1.5], "format": ".1f", "title": "abundance (rel. FC vs vehicle)", "titleFontSize": 16, "labelFontSize": 15}}
            }},
           {"transform": [{"filter": "isValid(datum.upper)"}],
            "mark": {"type": "rule", "strokeWidth": 1.5, "color": "black"},
            "encoding": {"x": {"field": "treatment", "type": "nominal", "sort": null}, "y": {"field": "abundance", "type": "quantitative"}, "y2": {"field": "upper"}}},
           {"transform": [{"filter": "isValid(datum.upper)"}],
            "mark": {"type": "tick", "orient": "horizontal", "size": 24, "thickness": 1.5, "color": "black"},
            "encoding": {"x": {"field": "treatment", "type": "nominal", "sort": null}, "y": {"field": "upper", "type": "quantitative"}}},
           {"transform": [{"filter": "isValid(datum.upper)"}],
            "mark": {"type": "text", "fontSize": 19, "baseline": "alphabetic", "dy": 1},
            "encoding": {"x": {"field": "treatment", "type": "nominal", "sort": null}, "y": {"field": "upper", "type": "quantitative"}, "text": {"field": "stars"}}}
          ]
         }
        ],
        "spacing": 35.5,
        "bounds": "flush"
       },
       {
        "title": {"text": "E", "anchor": "start", "frame": "group", "fontWeight": "bold", "fontSize": 18, "dx": -40, "dy": 0, "offset": 0},
        "vconcat": [
         {
          "width": 255, "height": 37,
          "layer": [
           {"data": {"name": "header"}, "mark": {"type": "text", "fontSize": 15},
            "encoding": {"x": {"field": "col", "type": "nominal", "scale": {"type": "band", "domain": ["label","20-","20+","55-","55+","58-","58+"], "paddingInner": 0, "paddingOuter": 0}, "axis": null},
             "y": {"field": "row", "type": "nominal", "scale": {"type": "band", "domain": ["temp", "DNA"], "paddingInner": 0, "paddingOuter": 0}, "axis": null},
             "text": {"field": "txt"}}},
           {"data": {"name": "temps"}, "mark": {"type": "text", "fontSize": 15},
            "encoding": {"x": {"field": "col", "type": "nominal", "bandPosition": 0}, "y": {"field": "row", "type": "nominal"}, "text": {"field": "txt"}}},
           {"data": {"values": [{"col": "55-"}, {"col": "58-"}]}, "mark": {"type": "rule", "strokeWidth": 1.5, "color": "black"},
            "encoding": {"x": {"field": "col", "type": "nominal", "bandPosition": 0}}},
           {"data": {"values": [{"col": "58+"}]}, "mark": {"type": "rule", "strokeWidth": 1.5, "color": "black"},
            "encoding": {"x": {"field": "col", "type": "nominal", "bandPosition": 1}}}
          ]
         },
         {
          "width": 255, "height": 161,
          "data": {"name": "heat"},
          "layer": [
           {"mark": {"type": "rect", "stroke": "black", "strokeWidth": 1.5},
            "encoding": {
             "x": {"field": "col", "type": "nominal", "scale": {"domain": ["label","20-","20+","55-","55+","58-","58+"], "paddingInner": 0, "paddingOuter": 0}, "axis": null},
             "y": {"field": "sub", "type": "nominal", "scale": {"domain": ["1","2","3","4","5","6","7","8","9","10","11"], "paddingInner": 0, "paddingOuter": 0}, "axis": {"title": "POLII subunit", "labels": false, "ticks": false, "domain": false, "titlePadding": 3, "titleFontSize": 15}},
             "color": {"field": "value", "type": "quantitative", "scale": {"domain": [-2, 0, 2], "range": ["#3b7ebf", "#ffffff", "#e41a1c"], "interpolate": "rgb", "clamp": true},
              "legend": {"orient": "none", "legendX": 266, "legendY": -40, "type": "symbol", "values": [2, 1, 0, -1, -2], "labelExpr": "datum.value < 0 ? '-' + abs(datum.value) : '' + datum.value", "title": ["foldchange", "vs. -DNA", "(log2)"], "titleFontSize": 15, "titleLineHeight": 20, "titleAlign": "center", "titleAnchor": "middle", "titlePadding": 6, "symbolType": "square", "symbolSize": 256, "symbolStrokeColor": "black", "symbolStrokeWidth": 1.5, "symbolOffset": 31, "rowPadding": 1, "labelFontSize": 15, "labelOffset": 3}}
            }},
           {"transform": [{"filter": "datum.col === '20-'"}],
            "mark": {"type": "rect", "fill": "white", "stroke": "black", "strokeWidth": 1.5},
            "encoding": {"x": {"datum": "label", "type": "nominal"}, "y": {"field": "sub", "type": "nominal"}}},
           {"transform": [{"filter": "datum.col === '20-'"}],
            "mark": {"type": "text", "fontSize": 15},
            "encoding": {"x": {"datum": "label", "type": "nominal"}, "y": {"field": "sub", "type": "nominal"}, "text": {"field": "sub"}}}
          ]
         },
         {
          "width": 255, "height": 14.6,
          "data": {"name": "heatavg"},
          "layer": [
           {"mark": {"type": "rect", "stroke": "black", "strokeWidth": 1.5},
            "encoding": {
             "x": {"field": "col", "type": "nominal", "scale": {"domain": ["label","20-","20+","55-","55+","58-","58+"], "paddingInner": 0, "paddingOuter": 0}, "axis": null},
             "y": {"field": "sub", "type": "nominal", "scale": {"paddingInner": 0, "paddingOuter": 0}, "axis": null},
             "color": {"field": "value", "type": "quantitative", "scale": {"domain": [-2, 0, 2], "range": ["#3b7ebf", "#ffffff", "#e41a1c"], "interpolate": "rgb", "clamp": true}, "legend": null}
            }},
           {"transform": [{"filter": "datum.col === '20-'"}],
            "mark": {"type": "text", "fontSize": 15},
            "encoding": {"x": {"datum": "label", "type": "nominal"}, "y": {"field": "sub", "type": "nominal"}, "text": {"field": "sub"}}}
          ]
         }
        ],
        "spacing": 4,
        "bounds": "flush",
        "resolve": {"scale": {"color": "independent"}}
       }
      ],
      "spacing": 30,
      "resolve": {"scale": {"color": "independent"}}
     }
    ],
    "spacing": -35
   }
  ],
  "spacing": 40,
  "resolve": {"scale": {"color": "independent", "fill": "independent", "stroke": "independent"}}
 }
]
}
